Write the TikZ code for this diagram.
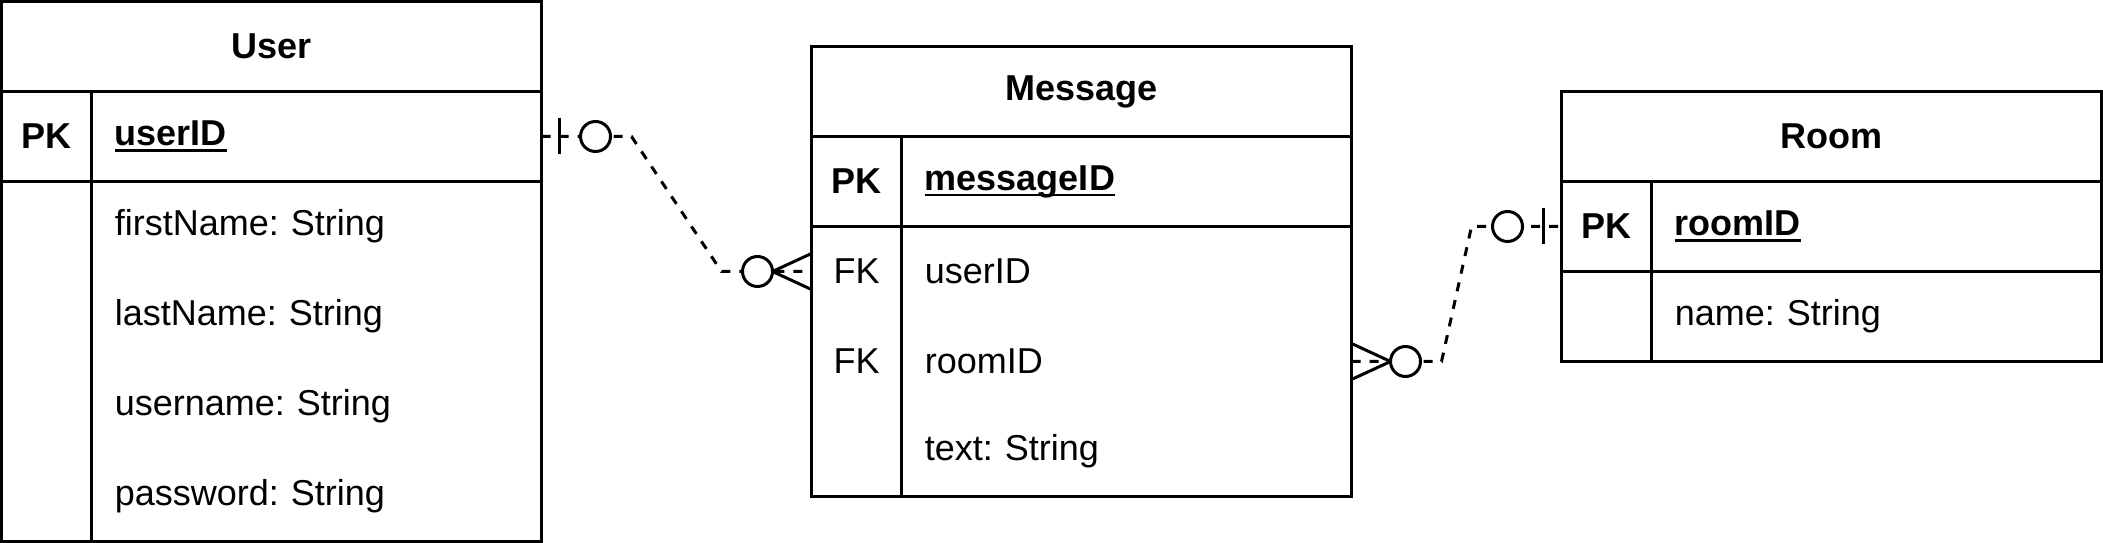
\documentclass[tikz,border=0pt]{standalone}
\usepackage{fontspec}
\setmainfont{Liberation Sans}
\usetikzlibrary{positioning}

\newcommand\keyfield[1]{\setbox0\hbox{\textbf{#1}}\rlap{\vrule height -1.2pt depth 2.1pt width \wd0}\box0}

\tikzset{
	every node/.style={outer sep=0pt},
	head/.style={draw, minimum width=180pt, minimum height=30pt, inner sep=0pt, font=\fontsize{12}{14}\selectfont\bfseries},
	key/.style={minimum width=30pt, minimum height=30pt, inner sep=0pt},
	field/.style={minimum width=150pt, minimum height=30pt, text width=134.4pt, inner xsep=7.8pt, inner ysep=0pt, align=left},
	rel/.style={dash pattern=on 3pt off 3pt},
	ring/.style={fill=white}
}

\begin{document}
\frenchspacing
\begin{tikzpicture}[x=1pt, y=-1pt, line width=1pt, font=\fontsize{12}{14}\selectfont]
		\useasboundingbox (0,0) rectangle (701,181);

		% User
		\draw (90.5,15.5) node [head] (user) {User};
		\draw (15.5,45.5) node [key] (userpk) {\textbf{PK}};
		\draw (105.5,45.5) node [field] (userid) {\keyfield{userID}};
		\foreach \f [count=\i] in {firstName, lastName, username, password}
			\draw (105.5,45.5+30*\i) node [field] (user\i) {\f: String};
		\draw (user.south west) rectangle (user4.south east);
		\draw (userpk.south west) -- (userid.south east);
		\draw (userpk.north east) -- (userpk.north east |- user4.south);

		% Message
		\draw (360.5,30.5) node [head] (msg) {Message};
		\draw (285.5,60.5) node [key] (msgpk) {\textbf{PK}};
		\draw (375.5,60.5) node [field] (msgid) {\keyfield{messageID}};
		\draw (285.5,90.5) node [key] (msgfk1) {FK};
		\draw (375.5,90.5) node [field] (msguser) {userID};
		\draw (285.5,120.5) node [key] (msgfk2) {FK};
		\draw (375.5,120.5) node [field] (msgroom) {roomID};
		\draw (375.5,150.5) node [field] (msgtext) {text: String};
		\draw (msg.south west) rectangle (msgtext.south east);
		\draw (msgpk.south west) -- (msgid.south east);
		\draw (msgpk.north east) -- (msgpk.north east |- msgtext.south);

		% Room
		\draw (610.5,45.5) node [head] (room) {Room};
		\draw (535.5,75.5) node [key] (roompk) {\textbf{PK}};
		\draw (625.5,75.5) node [field] (roomid) {\keyfield{roomID}};
		\draw (625.5,105.5) node [field] (roomname) {name: String};
		\draw (room.south west) rectangle (roomname.south east);
		\draw (roompk.south west) -- (roomid.south east);
		\draw (roompk.north east) -- (roompk.north east |- roomname.south);

		% User -- Message
		\draw [rel] (userid.east) -- ++(30,0) -- ([xshift=-30pt]msgfk1.west) -- (msgfk1.west);
		\draw ([xshift=6pt]userid.east) ++(0,-6) -- ++(0,12);
		\draw [ring] ([xshift=18pt]userid.east) circle (5pt);
		\draw ([yshift=6pt]msgfk1.west) -- ([xshift=-13pt]msgfk1.west) -- ([yshift=-6pt]msgfk1.west);
		\draw [ring] ([xshift=-18pt]msgfk1.west) circle (5pt);

		% Message -- Room
		\draw [rel] (msgroom.east) -- ++(30,0) -- ([xshift=-30pt]roompk.west) -- (roompk.west);
		\draw ([yshift=6pt]msgroom.east) -- ([xshift=13pt]msgroom.east) -- ([yshift=-6pt]msgroom.east);
		\draw [ring] ([xshift=18pt]msgroom.east) circle (5pt);
		\draw ([xshift=-6pt]roompk.west) ++(0,-6) -- ++(0,12);
		\draw [ring] ([xshift=-18pt]roompk.west) circle (5pt);
	\end{tikzpicture}
\end{document}
